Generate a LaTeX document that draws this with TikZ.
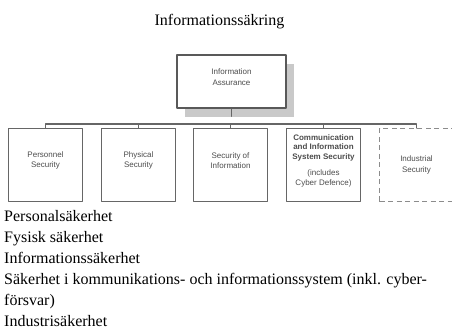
\documentclass[tikz,border=0pt]{standalone}
\usepackage{fontspec}
\setmainfont{Liberation Serif}
\newfontfamily\arialfont{Liberation Sans}
\usetikzlibrary{shadows}
\definecolor{boxgray}{rgb}{0.4,0.4,0.4}
\definecolor{textgray}{rgb}{0.3,0.3,0.3}
\definecolor{shadowgray}{rgb}{0.79,0.79,0.79}
\definecolor{dashgray}{rgb}{0.55,0.55,0.55}

\begin{document}
\begin{tikzpicture}[line cap=round,line join=round,x=1pt,y=-1pt,
    unit/.style={draw=boxgray,line width=0.9pt,minimum width=74pt,minimum height=73pt,inner sep=0pt},
    unittext/.style={font=\arialfont\fontsize{8}{10.5}\selectfont,text=textgray,align=center},
    bus/.style={draw=boxgray,line width=1.2pt},
    listline/.style={anchor=base west,font=\fontsize{16}{19}\selectfont,inner sep=0pt}]
	\useasboundingbox (0,0) rectangle (452,331);
	\clip (0,0) rectangle (452,331);

	\node[anchor=base,font=\fontsize{16}{19}\selectfont,inner sep=0pt] (title) at (219.5,26) {Informationssäkring};

	% top box with shadow
	\node[draw=black!65,line width=2.5pt,fill=white,minimum width=109pt,minimum height=53pt,
	      drop shadow={shadow xshift=8pt,shadow yshift=-9pt,fill=shadowgray,opacity=1}] (ia) at (231.5,81.5) {};
	\node[unittext] (iat) at ([yshift=4.5pt]ia.center) {Information\\Assurance};

	% the five units
	\node[unit] (ps) at (45.5,165) {};
	\node[unit] (phs) at (138.5,165) {};
	\node[unit] (si) at (230.5,165) {};
	\node[unit] (cis) at (323.5,165) {};
	\node[unit,draw=dashgray,dashed,dash pattern=on 5pt off 3.5pt,line cap=butt] (ind) at (416.5,165) {};

	\node[unittext] (pst) at ([yshift=4.5pt]ps.center) {Personnel\\Security};
	\node[unittext] (phst) at ([yshift=4.5pt]phs.center) {Physical\\Security};
	\node[unittext] (sit) at ([yshift=4.5pt]si.center) {Security of\\Information};
	\node[unittext,font=\arialfont\fontsize{8}{9.5}\selectfont] (cist) at ([yshift=4.5pt]cis.center)
	     {\textbf{Communication}\\\textbf{and Information}\\\textbf{System Security}\\[7pt](includes\\Cyber Defence)};
	\node[unittext] (indt) at (ind.center) {Industrial\\Security};

	% connectors
	\draw[bus] (ia.south) -- ++(0,7);
	\draw[bus] (ps.north) -- ++(0,-4) -| (ind.north);
	\foreach \n in {phs,si,cis}
		\draw[bus] (\n.north) -- ++(0,-4);

	% swedish list
	\foreach \t [count=\i] in {Personalsäkerhet,Fysisk säkerhet,Informationssäkerhet,
	    {Säkerhet i kommunikations- och informationssystem (inkl. cyber-},försvar),Industrisäkerhet}
		\node[listline] (line\i) at (4,{200+21*\i}) {\t};
\end{tikzpicture}
\end{document}
